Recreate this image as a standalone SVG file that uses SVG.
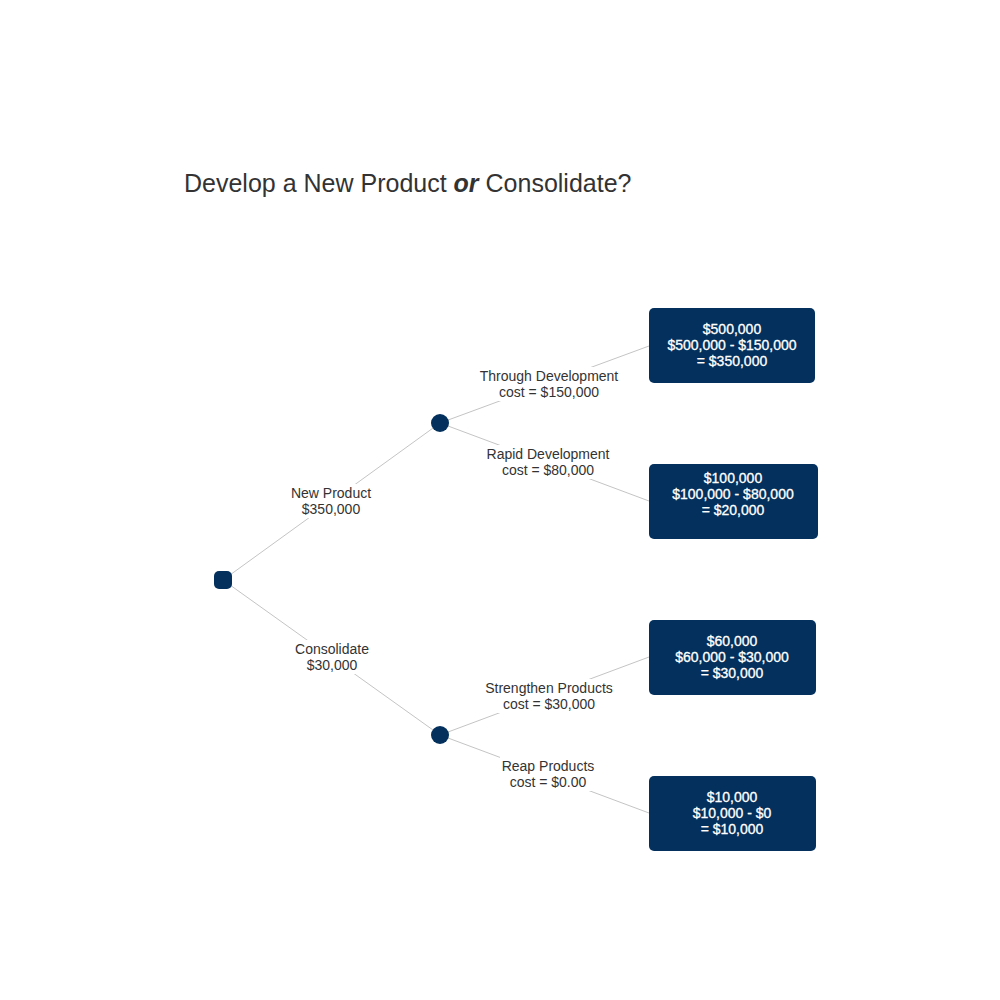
<svg xmlns="http://www.w3.org/2000/svg" width="1000" height="1000" viewBox="0 0 1000 1000">
<style>
.bg{fill:#fff}
.edge{stroke:#c4c4c4;stroke-width:1;fill:none}
.lbl{font-family:"Liberation Sans",Arial,sans-serif;font-size:14px;fill:#333;text-anchor:middle}
.lblbg{fill:#fff}
.node{fill:#03305c}
.box{fill:#03305c}
.btxt{font-family:"Liberation Sans",Arial,sans-serif;font-size:14px;fill:#fff;stroke:#fff;stroke-width:0.3;text-anchor:middle}
.title{font-family:"Liberation Sans",Arial,sans-serif;font-size:25px;fill:#333}
</style>
<rect class="bg" x="0" y="0" width="1000" height="1000"/>
<text class="title" x="184" y="192">Develop a New Product <tspan font-weight="bold" font-style="italic">or</tspan> Consolidate?</text>
<g id="connectors">
<line class="edge" x1="223" y1="580" x2="440" y2="423"/>
<line class="edge" x1="223" y1="580" x2="440" y2="735"/>
<line class="edge" x1="440" y1="423" x2="649" y2="346"/>
<line class="edge" x1="440" y1="423" x2="649" y2="501"/>
<line class="edge" x1="440" y1="735" x2="649" y2="657"/>
<line class="edge" x1="440" y1="735" x2="649" y2="813"/>
<rect class="lblbg" x="288" y="484" width="87" height="34"/>
<text class="lbl" x="331" y="498">New Product</text>
<text class="lbl" x="331" y="514">$350,000</text>
<rect class="lblbg" x="292" y="640" width="80" height="34"/>
<text class="lbl" x="332" y="654">Consolidate</text>
<text class="lbl" x="332" y="670">$30,000</text>
<rect class="lblbg" x="478" y="367" width="142" height="34"/>
<text class="lbl" x="549" y="381">Through Development</text>
<text class="lbl" x="549" y="397">cost = $150,000</text>
<rect class="lblbg" x="486" y="445" width="125" height="34"/>
<text class="lbl" x="548" y="459">Rapid Development</text>
<text class="lbl" x="548" y="475">cost = $80,000</text>
<rect class="lblbg" x="484" y="679" width="130" height="34"/>
<text class="lbl" x="549" y="693">Strengthen Products</text>
<text class="lbl" x="549" y="709">cost = $30,000</text>
<rect class="lblbg" x="500" y="757" width="97" height="34"/>
<text class="lbl" x="548" y="771">Reap Products</text>
<text class="lbl" x="548" y="787">cost = $0.00</text>
</g>
<g id="decision">
<rect class="node" x="214" y="571" width="18" height="18" rx="5"/>
</g>
<g id="chance1">
<circle class="node" cx="440" cy="423" r="9"/>
</g>
<g id="chance2">
<circle class="node" cx="440" cy="735" r="9"/>
</g>
<g id="outcome1">
<rect class="box" x="649" y="308" width="166" height="75" rx="5"/>
<text class="btxt" x="732" y="334">$500,000</text>
<text class="btxt" x="732" y="350">$500,000 - $150,000</text>
<text class="btxt" x="732" y="366">= $350,000</text>
</g>
<g id="outcome2">
<rect class="box" x="649" y="464" width="169" height="75" rx="5"/>
<text class="btxt" x="733" y="483">$100,000</text>
<text class="btxt" x="733" y="499">$100,000 - $80,000</text>
<text class="btxt" x="733" y="515">= $20,000</text>
</g>
<g id="outcome3">
<rect class="box" x="649" y="620" width="167" height="75" rx="5"/>
<text class="btxt" x="732" y="646">$60,000</text>
<text class="btxt" x="732" y="662">$60,000 - $30,000</text>
<text class="btxt" x="732" y="678">= $30,000</text>
</g>
<g id="outcome4">
<rect class="box" x="649" y="776" width="167" height="75" rx="5"/>
<text class="btxt" x="732" y="802">$10,000</text>
<text class="btxt" x="732" y="818">$10,000 - $0</text>
<text class="btxt" x="732" y="834">= $10,000</text>
</g>
</svg>
